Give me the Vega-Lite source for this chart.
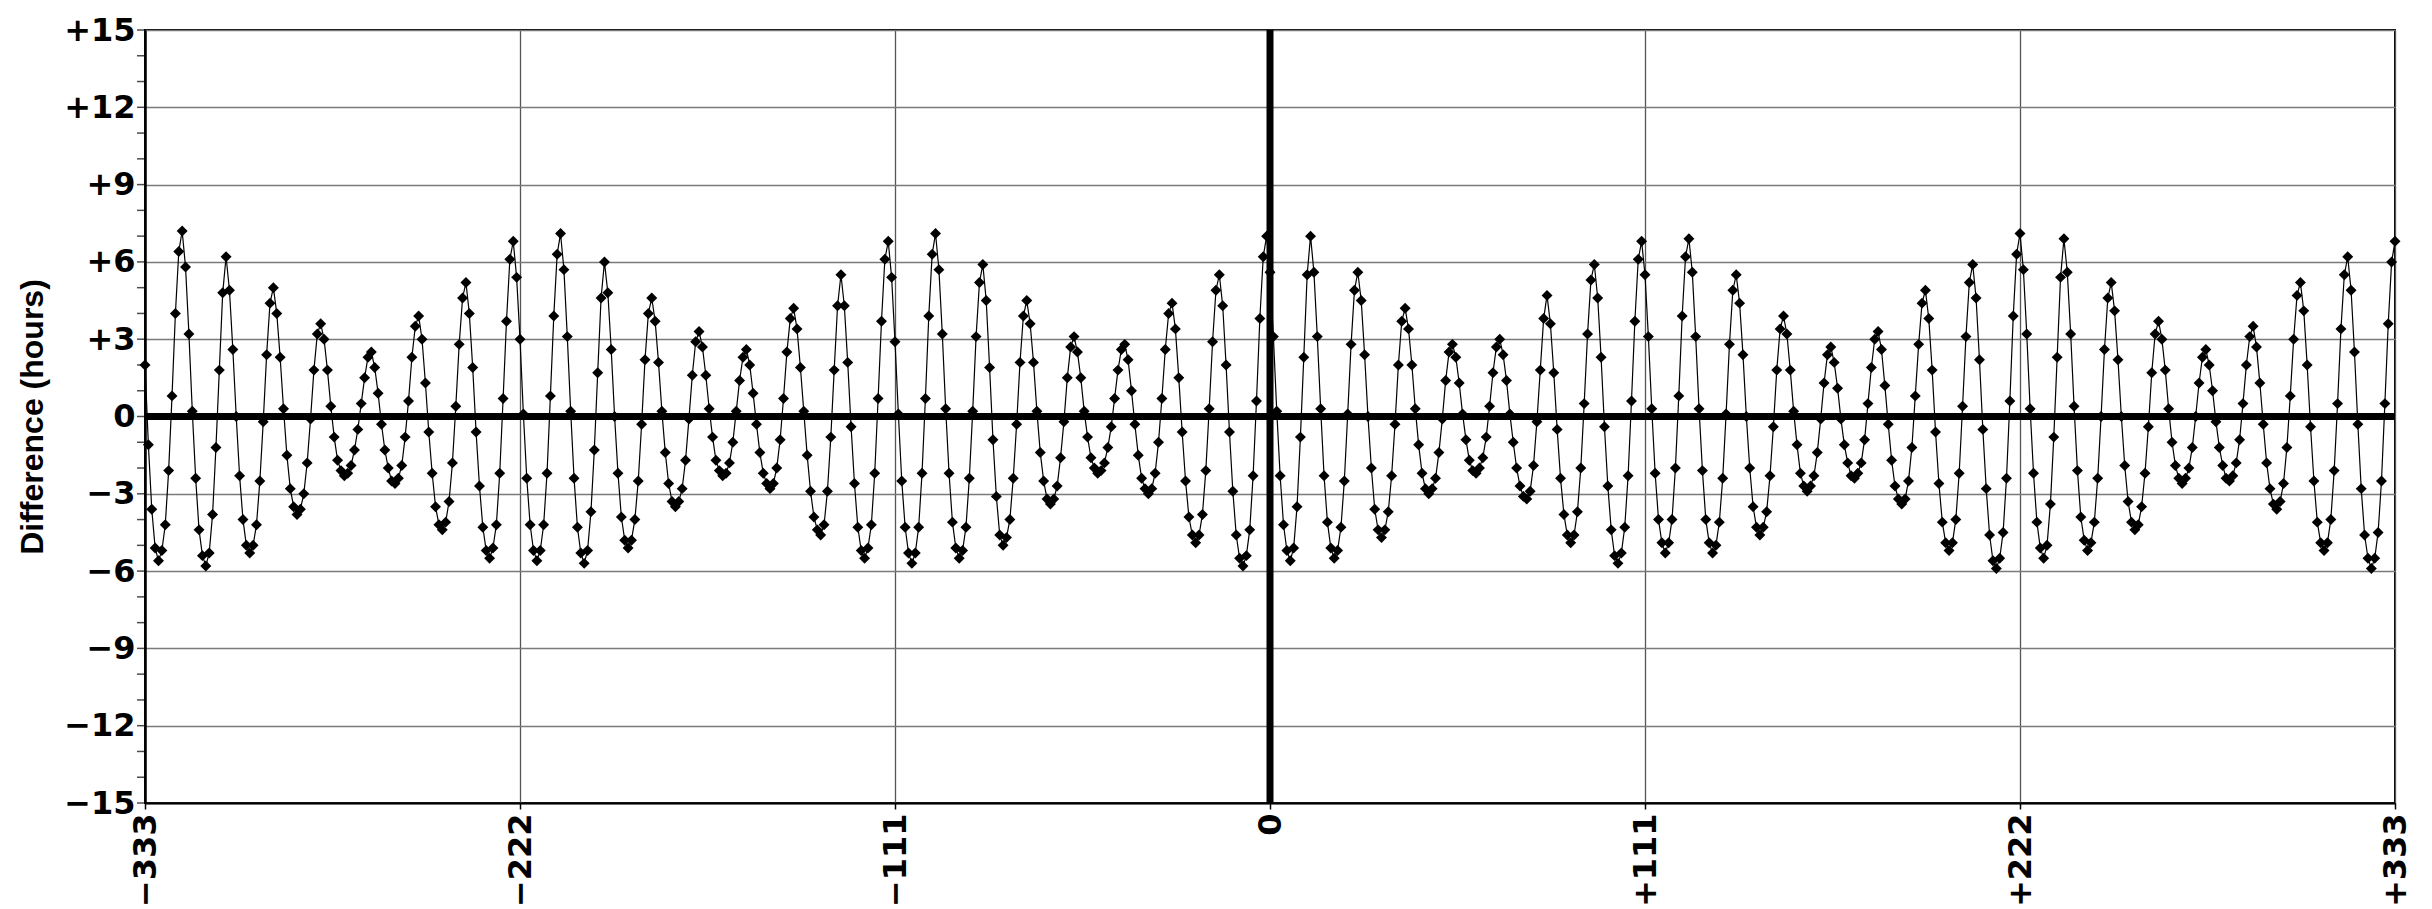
{
  "$schema": "https://vega.github.io/schema/vega-lite/v6.json",
  "width": 2250,
  "height": 773,
  "autosize": "none",
  "padding": {"left": 145, "top": 30, "right": 37, "bottom": 106},
  "background": "white",
  "config": {"view": {"stroke": "black", "strokeWidth": 2}},
  "datasets": {
    "lunations": [
{"n":-333,"d":2.0},{"n":-332,"d":-1.1},{"n":-331,"d":-3.6},{"n":-330,"d":-5.1},{"n":-329,"d":-5.6},{"n":-328,"d":-5.2},{"n":-327,"d":-4.2},{"n":-326,"d":-2.1},{"n":-325,"d":0.8},{"n":-324,"d":4.0},{"n":-323,"d":6.4},{"n":-322,"d":7.2},{"n":-321,"d":5.8},{"n":-320,"d":3.2},{"n":-319,"d":0.2},{"n":-318,"d":-2.4},{"n":-317,"d":-4.4},{"n":-316,"d":-5.4},{"n":-315,"d":-5.8},{"n":-314,"d":-5.3},{"n":-313,"d":-3.8},{"n":-312,"d":-1.2},{"n":-311,"d":1.8},{"n":-310,"d":4.8},{"n":-309,"d":6.2},{"n":-308,"d":4.9},{"n":-307,"d":2.6},{"n":-306,"d":0.0},{"n":-305,"d":-2.3},{"n":-304,"d":-4.0},{"n":-303,"d":-5.0},{"n":-302,"d":-5.3},{"n":-301,"d":-5.0},{"n":-300,"d":-4.2},{"n":-299,"d":-2.5},{"n":-298,"d":-0.2},{"n":-297,"d":2.4},{"n":-296,"d":4.4},{"n":-295,"d":5.0},{"n":-294,"d":4.0},{"n":-293,"d":2.3},{"n":-292,"d":0.3},{"n":-291,"d":-1.5},{"n":-290,"d":-2.8},{"n":-289,"d":-3.5},{"n":-288,"d":-3.8},{"n":-287,"d":-3.6},{"n":-286,"d":-3.0},{"n":-285,"d":-1.8},{"n":-284,"d":-0.1},{"n":-283,"d":1.8},{"n":-282,"d":3.2},{"n":-281,"d":3.6},{"n":-280,"d":3.0},{"n":-279,"d":1.8},{"n":-278,"d":0.4},{"n":-277,"d":-0.8},{"n":-276,"d":-1.7},{"n":-275,"d":-2.1},{"n":-274,"d":-2.3},{"n":-273,"d":-2.2},{"n":-272,"d":-1.9},{"n":-271,"d":-1.3},{"n":-270,"d":-0.5},{"n":-269,"d":0.5},{"n":-268,"d":1.5},{"n":-267,"d":2.3},{"n":-266,"d":2.5},{"n":-265,"d":1.9},{"n":-264,"d":0.9},{"n":-263,"d":-0.3},{"n":-262,"d":-1.3},{"n":-261,"d":-2.0},{"n":-260,"d":-2.5},{"n":-259,"d":-2.6},{"n":-258,"d":-2.4},{"n":-257,"d":-1.9},{"n":-256,"d":-0.8},{"n":-255,"d":0.6},{"n":-254,"d":2.3},{"n":-253,"d":3.5},{"n":-252,"d":3.9},{"n":-251,"d":3.0},{"n":-250,"d":1.3},{"n":-249,"d":-0.6},{"n":-248,"d":-2.2},{"n":-247,"d":-3.5},{"n":-246,"d":-4.2},{"n":-245,"d":-4.4},{"n":-244,"d":-4.1},{"n":-243,"d":-3.3},{"n":-242,"d":-1.8},{"n":-241,"d":0.4},{"n":-240,"d":2.8},{"n":-239,"d":4.6},{"n":-238,"d":5.2},{"n":-237,"d":4.0},{"n":-236,"d":1.9},{"n":-235,"d":-0.6},{"n":-234,"d":-2.7},{"n":-233,"d":-4.3},{"n":-232,"d":-5.2},{"n":-231,"d":-5.5},{"n":-230,"d":-5.1},{"n":-229,"d":-4.2},{"n":-228,"d":-2.2},{"n":-227,"d":0.7},{"n":-226,"d":3.7},{"n":-225,"d":6.1},{"n":-224,"d":6.8},{"n":-223,"d":5.4},{"n":-222,"d":3.0},{"n":-221,"d":0.1},{"n":-220,"d":-2.4},{"n":-219,"d":-4.2},{"n":-218,"d":-5.2},{"n":-217,"d":-5.6},{"n":-216,"d":-5.2},{"n":-215,"d":-4.2},{"n":-214,"d":-2.2},{"n":-213,"d":0.8},{"n":-212,"d":3.9},{"n":-211,"d":6.3},{"n":-210,"d":7.1},{"n":-209,"d":5.7},{"n":-208,"d":3.1},{"n":-207,"d":0.2},{"n":-206,"d":-2.4},{"n":-205,"d":-4.3},{"n":-204,"d":-5.3},{"n":-203,"d":-5.7},{"n":-202,"d":-5.2},{"n":-201,"d":-3.7},{"n":-200,"d":-1.3},{"n":-199,"d":1.7},{"n":-198,"d":4.6},{"n":-197,"d":6.0},{"n":-196,"d":4.8},{"n":-195,"d":2.6},{"n":-194,"d":0.0},{"n":-193,"d":-2.2},{"n":-192,"d":-3.9},{"n":-191,"d":-4.8},{"n":-190,"d":-5.1},{"n":-189,"d":-4.8},{"n":-188,"d":-4.0},{"n":-187,"d":-2.5},{"n":-186,"d":-0.3},{"n":-185,"d":2.2},{"n":-184,"d":4.0},{"n":-183,"d":4.6},{"n":-182,"d":3.7},{"n":-181,"d":2.1},{"n":-180,"d":0.2},{"n":-179,"d":-1.4},{"n":-178,"d":-2.6},{"n":-177,"d":-3.3},{"n":-176,"d":-3.5},{"n":-175,"d":-3.3},{"n":-174,"d":-2.8},{"n":-173,"d":-1.7},{"n":-172,"d":-0.1},{"n":-171,"d":1.6},{"n":-170,"d":2.9},{"n":-169,"d":3.3},{"n":-168,"d":2.7},{"n":-167,"d":1.6},{"n":-166,"d":0.3},{"n":-165,"d":-0.8},{"n":-164,"d":-1.7},{"n":-163,"d":-2.1},{"n":-162,"d":-2.3},{"n":-161,"d":-2.2},{"n":-160,"d":-1.8},{"n":-159,"d":-1.0},{"n":-158,"d":0.2},{"n":-157,"d":1.4},{"n":-156,"d":2.3},{"n":-155,"d":2.6},{"n":-154,"d":2.0},{"n":-153,"d":0.9},{"n":-152,"d":-0.3},{"n":-151,"d":-1.4},{"n":-150,"d":-2.2},{"n":-149,"d":-2.6},{"n":-148,"d":-2.8},{"n":-147,"d":-2.6},{"n":-146,"d":-2.0},{"n":-145,"d":-0.9},{"n":-144,"d":0.7},{"n":-143,"d":2.5},{"n":-142,"d":3.8},{"n":-141,"d":4.2},{"n":-140,"d":3.4},{"n":-139,"d":1.9},{"n":-138,"d":0.2},{"n":-137,"d":-1.5},{"n":-136,"d":-2.9},{"n":-135,"d":-3.9},{"n":-134,"d":-4.4},{"n":-133,"d":-4.6},{"n":-132,"d":-4.2},{"n":-131,"d":-2.9},{"n":-130,"d":-0.8},{"n":-129,"d":1.8},{"n":-128,"d":4.3},{"n":-127,"d":5.5},{"n":-126,"d":4.3},{"n":-125,"d":2.1},{"n":-124,"d":-0.4},{"n":-123,"d":-2.6},{"n":-122,"d":-4.3},{"n":-121,"d":-5.2},{"n":-120,"d":-5.5},{"n":-119,"d":-5.1},{"n":-118,"d":-4.2},{"n":-117,"d":-2.2},{"n":-116,"d":0.7},{"n":-115,"d":3.7},{"n":-114,"d":6.1},{"n":-113,"d":6.8},{"n":-112,"d":5.4},{"n":-111,"d":2.9},{"n":-110,"d":0.1},{"n":-109,"d":-2.5},{"n":-108,"d":-4.3},{"n":-107,"d":-5.3},{"n":-106,"d":-5.7},{"n":-105,"d":-5.3},{"n":-104,"d":-4.3},{"n":-103,"d":-2.2},{"n":-102,"d":0.7},{"n":-101,"d":3.9},{"n":-100,"d":6.3},{"n":-99,"d":7.1},{"n":-98,"d":5.7},{"n":-97,"d":3.2},{"n":-96,"d":0.3},{"n":-95,"d":-2.2},{"n":-94,"d":-4.1},{"n":-93,"d":-5.1},{"n":-92,"d":-5.5},{"n":-91,"d":-5.2},{"n":-90,"d":-4.3},{"n":-89,"d":-2.4},{"n":-88,"d":0.2},{"n":-87,"d":3.1},{"n":-86,"d":5.2},{"n":-85,"d":5.9},{"n":-84,"d":4.5},{"n":-83,"d":1.9},{"n":-82,"d":-0.9},{"n":-81,"d":-3.1},{"n":-80,"d":-4.6},{"n":-79,"d":-5.0},{"n":-78,"d":-4.7},{"n":-77,"d":-4.0},{"n":-76,"d":-2.4},{"n":-75,"d":-0.3},{"n":-74,"d":2.1},{"n":-73,"d":3.9},{"n":-72,"d":4.5},{"n":-71,"d":3.6},{"n":-70,"d":2.1},{"n":-69,"d":0.2},{"n":-68,"d":-1.4},{"n":-67,"d":-2.5},{"n":-66,"d":-3.2},{"n":-65,"d":-3.4},{"n":-64,"d":-3.2},{"n":-63,"d":-2.7},{"n":-62,"d":-1.6},{"n":-61,"d":-0.2},{"n":-60,"d":1.5},{"n":-59,"d":2.7},{"n":-58,"d":3.1},{"n":-57,"d":2.5},{"n":-56,"d":1.5},{"n":-55,"d":0.2},{"n":-54,"d":-0.8},{"n":-53,"d":-1.6},{"n":-52,"d":-2.0},{"n":-51,"d":-2.2},{"n":-50,"d":-2.1},{"n":-49,"d":-1.8},{"n":-48,"d":-1.2},{"n":-47,"d":-0.4},{"n":-46,"d":0.7},{"n":-45,"d":1.8},{"n":-44,"d":2.6},{"n":-43,"d":2.8},{"n":-42,"d":2.2},{"n":-41,"d":1.0},{"n":-40,"d":-0.3},{"n":-39,"d":-1.5},{"n":-38,"d":-2.4},{"n":-37,"d":-2.8},{"n":-36,"d":-3.0},{"n":-35,"d":-2.8},{"n":-34,"d":-2.2},{"n":-33,"d":-1.0},{"n":-32,"d":0.7},{"n":-31,"d":2.6},{"n":-30,"d":4.0},{"n":-29,"d":4.4},{"n":-28,"d":3.4},{"n":-27,"d":1.5},{"n":-26,"d":-0.6},{"n":-25,"d":-2.5},{"n":-24,"d":-3.9},{"n":-23,"d":-4.6},{"n":-22,"d":-4.9},{"n":-21,"d":-4.6},{"n":-20,"d":-3.8},{"n":-19,"d":-2.1},{"n":-18,"d":0.3},{"n":-17,"d":2.9},{"n":-16,"d":4.9},{"n":-15,"d":5.5},{"n":-14,"d":4.3},{"n":-13,"d":2.0},{"n":-12,"d":-0.6},{"n":-11,"d":-2.9},{"n":-10,"d":-4.6},{"n":-9,"d":-5.5},{"n":-8,"d":-5.8},{"n":-7,"d":-5.4},{"n":-6,"d":-4.4},{"n":-5,"d":-2.3},{"n":-4,"d":0.6},{"n":-3,"d":3.8},{"n":-2,"d":6.2},{"n":-1,"d":7.0},{"n":0,"d":5.6},{"n":1,"d":3.1},{"n":2,"d":0.2},{"n":3,"d":-2.3},{"n":4,"d":-4.2},{"n":5,"d":-5.2},{"n":6,"d":-5.6},{"n":7,"d":-5.1},{"n":8,"d":-3.5},{"n":9,"d":-0.8},{"n":10,"d":2.3},{"n":11,"d":5.5},{"n":12,"d":7.0},{"n":13,"d":5.6},{"n":14,"d":3.1},{"n":15,"d":0.3},{"n":16,"d":-2.3},{"n":17,"d":-4.1},{"n":18,"d":-5.1},{"n":19,"d":-5.5},{"n":20,"d":-5.2},{"n":21,"d":-4.3},{"n":22,"d":-2.5},{"n":23,"d":0.1},{"n":24,"d":2.8},{"n":25,"d":4.9},{"n":26,"d":5.6},{"n":27,"d":4.5},{"n":28,"d":2.4},{"n":29,"d":0.0},{"n":30,"d":-2.0},{"n":31,"d":-3.6},{"n":32,"d":-4.4},{"n":33,"d":-4.7},{"n":34,"d":-4.4},{"n":35,"d":-3.7},{"n":36,"d":-2.3},{"n":37,"d":-0.3},{"n":38,"d":2.0},{"n":39,"d":3.7},{"n":40,"d":4.2},{"n":41,"d":3.4},{"n":42,"d":2.0},{"n":43,"d":0.3},{"n":44,"d":-1.1},{"n":45,"d":-2.2},{"n":46,"d":-2.8},{"n":47,"d":-3.0},{"n":48,"d":-2.8},{"n":49,"d":-2.4},{"n":50,"d":-1.4},{"n":51,"d":-0.1},{"n":52,"d":1.4},{"n":53,"d":2.5},{"n":54,"d":2.8},{"n":55,"d":2.3},{"n":56,"d":1.3},{"n":57,"d":0.1},{"n":58,"d":-0.9},{"n":59,"d":-1.7},{"n":60,"d":-2.1},{"n":61,"d":-2.2},{"n":62,"d":-2.0},{"n":63,"d":-1.6},{"n":64,"d":-0.8},{"n":65,"d":0.4},{"n":66,"d":1.7},{"n":67,"d":2.7},{"n":68,"d":3.0},{"n":69,"d":2.4},{"n":70,"d":1.4},{"n":71,"d":0.1},{"n":72,"d":-1.0},{"n":73,"d":-2.0},{"n":74,"d":-2.7},{"n":75,"d":-3.1},{"n":76,"d":-3.2},{"n":77,"d":-2.9},{"n":78,"d":-1.9},{"n":79,"d":-0.2},{"n":80,"d":1.8},{"n":81,"d":3.8},{"n":82,"d":4.7},{"n":83,"d":3.6},{"n":84,"d":1.7},{"n":85,"d":-0.5},{"n":86,"d":-2.4},{"n":87,"d":-3.8},{"n":88,"d":-4.6},{"n":89,"d":-4.9},{"n":90,"d":-4.6},{"n":91,"d":-3.7},{"n":92,"d":-2.0},{"n":93,"d":0.5},{"n":94,"d":3.2},{"n":95,"d":5.3},{"n":96,"d":5.9},{"n":97,"d":4.6},{"n":98,"d":2.3},{"n":99,"d":-0.4},{"n":100,"d":-2.7},{"n":101,"d":-4.4},{"n":102,"d":-5.4},{"n":103,"d":-5.7},{"n":104,"d":-5.3},{"n":105,"d":-4.3},{"n":106,"d":-2.3},{"n":107,"d":0.6},{"n":108,"d":3.7},{"n":109,"d":6.1},{"n":110,"d":6.8},{"n":111,"d":5.5},{"n":112,"d":3.1},{"n":113,"d":0.3},{"n":114,"d":-2.2},{"n":115,"d":-4.0},{"n":116,"d":-4.9},{"n":117,"d":-5.3},{"n":118,"d":-4.9},{"n":119,"d":-4.0},{"n":120,"d":-2.0},{"n":121,"d":0.8},{"n":122,"d":3.9},{"n":123,"d":6.2},{"n":124,"d":6.9},{"n":125,"d":5.6},{"n":126,"d":3.1},{"n":127,"d":0.3},{"n":128,"d":-2.1},{"n":129,"d":-4.0},{"n":130,"d":-4.9},{"n":131,"d":-5.3},{"n":132,"d":-5.0},{"n":133,"d":-4.1},{"n":134,"d":-2.4},{"n":135,"d":0.1},{"n":136,"d":2.8},{"n":137,"d":4.9},{"n":138,"d":5.5},{"n":139,"d":4.4},{"n":140,"d":2.4},{"n":141,"d":0.0},{"n":142,"d":-2.0},{"n":143,"d":-3.5},{"n":144,"d":-4.3},{"n":145,"d":-4.6},{"n":146,"d":-4.3},{"n":147,"d":-3.7},{"n":148,"d":-2.3},{"n":149,"d":-0.4},{"n":150,"d":1.8},{"n":151,"d":3.4},{"n":152,"d":3.9},{"n":153,"d":3.2},{"n":154,"d":1.8},{"n":155,"d":0.2},{"n":156,"d":-1.1},{"n":157,"d":-2.2},{"n":158,"d":-2.7},{"n":159,"d":-2.9},{"n":160,"d":-2.7},{"n":161,"d":-2.3},{"n":162,"d":-1.4},{"n":163,"d":-0.1},{"n":164,"d":1.3},{"n":165,"d":2.4},{"n":166,"d":2.7},{"n":167,"d":2.1},{"n":168,"d":1.1},{"n":169,"d":-0.1},{"n":170,"d":-1.1},{"n":171,"d":-1.8},{"n":172,"d":-2.3},{"n":173,"d":-2.4},{"n":174,"d":-2.2},{"n":175,"d":-1.8},{"n":176,"d":-0.9},{"n":177,"d":0.5},{"n":178,"d":1.9},{"n":179,"d":3.0},{"n":180,"d":3.3},{"n":181,"d":2.6},{"n":182,"d":1.2},{"n":183,"d":-0.3},{"n":184,"d":-1.7},{"n":185,"d":-2.7},{"n":186,"d":-3.2},{"n":187,"d":-3.4},{"n":188,"d":-3.2},{"n":189,"d":-2.5},{"n":190,"d":-1.2},{"n":191,"d":0.8},{"n":192,"d":2.8},{"n":193,"d":4.4},{"n":194,"d":4.9},{"n":195,"d":3.8},{"n":196,"d":1.8},{"n":197,"d":-0.6},{"n":198,"d":-2.6},{"n":199,"d":-4.1},{"n":200,"d":-4.9},{"n":201,"d":-5.2},{"n":202,"d":-4.9},{"n":203,"d":-4.0},{"n":204,"d":-2.2},{"n":205,"d":0.4},{"n":206,"d":3.1},{"n":207,"d":5.2},{"n":208,"d":5.9},{"n":209,"d":4.6},{"n":210,"d":2.2},{"n":211,"d":-0.5},{"n":212,"d":-2.8},{"n":213,"d":-4.6},{"n":214,"d":-5.6},{"n":215,"d":-5.9},{"n":216,"d":-5.5},{"n":217,"d":-4.5},{"n":218,"d":-2.4},{"n":219,"d":0.6},{"n":220,"d":3.9},{"n":221,"d":6.3},{"n":222,"d":7.1},{"n":223,"d":5.7},{"n":224,"d":3.2},{"n":225,"d":0.3},{"n":226,"d":-2.2},{"n":227,"d":-4.1},{"n":228,"d":-5.1},{"n":229,"d":-5.5},{"n":230,"d":-5.0},{"n":231,"d":-3.4},{"n":232,"d":-0.8},{"n":233,"d":2.3},{"n":234,"d":5.4},{"n":235,"d":6.9},{"n":236,"d":5.6},{"n":237,"d":3.2},{"n":238,"d":0.4},{"n":239,"d":-2.1},{"n":240,"d":-3.9},{"n":241,"d":-4.8},{"n":242,"d":-5.2},{"n":243,"d":-4.9},{"n":244,"d":-4.1},{"n":245,"d":-2.4},{"n":246,"d":0.0},{"n":247,"d":2.6},{"n":248,"d":4.6},{"n":249,"d":5.2},{"n":250,"d":4.1},{"n":251,"d":2.2},{"n":252,"d":0.0},{"n":253,"d":-1.9},{"n":254,"d":-3.3},{"n":255,"d":-4.1},{"n":256,"d":-4.4},{"n":257,"d":-4.2},{"n":258,"d":-3.5},{"n":259,"d":-2.2},{"n":260,"d":-0.4},{"n":261,"d":1.7},{"n":262,"d":3.2},{"n":263,"d":3.7},{"n":264,"d":3.0},{"n":265,"d":1.8},{"n":266,"d":0.3},{"n":267,"d":-1.0},{"n":268,"d":-1.9},{"n":269,"d":-2.4},{"n":270,"d":-2.6},{"n":271,"d":-2.4},{"n":272,"d":-2.0},{"n":273,"d":-1.2},{"n":274,"d":0.0},{"n":275,"d":1.3},{"n":276,"d":2.3},{"n":277,"d":2.6},{"n":278,"d":2.0},{"n":279,"d":1.0},{"n":280,"d":-0.2},{"n":281,"d":-1.2},{"n":282,"d":-1.9},{"n":283,"d":-2.4},{"n":284,"d":-2.5},{"n":285,"d":-2.3},{"n":286,"d":-1.8},{"n":287,"d":-0.9},{"n":288,"d":0.5},{"n":289,"d":2.0},{"n":290,"d":3.1},{"n":291,"d":3.5},{"n":292,"d":2.7},{"n":293,"d":1.3},{"n":294,"d":-0.3},{"n":295,"d":-1.8},{"n":296,"d":-2.8},{"n":297,"d":-3.4},{"n":298,"d":-3.6},{"n":299,"d":-3.3},{"n":300,"d":-2.6},{"n":301,"d":-1.2},{"n":302,"d":0.8},{"n":303,"d":3.0},{"n":304,"d":4.7},{"n":305,"d":5.2},{"n":306,"d":4.1},{"n":307,"d":2.0},{"n":308,"d":-0.4},{"n":309,"d":-2.5},{"n":310,"d":-4.1},{"n":311,"d":-4.9},{"n":312,"d":-5.2},{"n":313,"d":-4.9},{"n":314,"d":-4.0},{"n":315,"d":-2.1},{"n":316,"d":0.5},{"n":317,"d":3.4},{"n":318,"d":5.5},{"n":319,"d":6.2},{"n":320,"d":4.9},{"n":321,"d":2.5},{"n":322,"d":-0.3},{"n":323,"d":-2.8},{"n":324,"d":-4.6},{"n":325,"d":-5.5},{"n":326,"d":-5.9},{"n":327,"d":-5.5},{"n":328,"d":-4.5},{"n":329,"d":-2.5},{"n":330,"d":0.5},{"n":331,"d":3.6},{"n":332,"d":6.0},{"n":333,"d":6.8}
    ],
    "minorTicks": [
{"m":-15},{"m":-14},{"m":-13},{"m":-12},{"m":-11},{"m":-10},{"m":-9},{"m":-8},{"m":-7},{"m":-6},{"m":-5},{"m":-4},{"m":-3},{"m":-2},{"m":-1},{"m":0},{"m":1},{"m":2},{"m":3},{"m":4},{"m":5},{"m":6},{"m":7},{"m":8},{"m":9},{"m":10},{"m":11},{"m":12},{"m":13},{"m":14},{"m":15}
    ]
  },
  "layer": [
    {
      "data": {"name": "lunations"},
      "mark": {"type": "line", "color": "black", "strokeWidth": 1.2},
      "encoding": {
        "x": {
          "field": "n", "type": "quantitative",
          "scale": {"domain": [-333, 333], "nice": false, "zero": false},
          "axis": {
            "title": null,
            "values": [-333, -222, -111, 0, 111, 222, 333],
            "labelExpr": "datum.value > 0 ? '+' + datum.value : (datum.value < 0 ? '−' + abs(datum.value) : '0')",
            "labelAngle": -90,
            "labelFont": "DejaVu Sans",
            "labelFontWeight": "bold",
            "labelFontSize": 32,
            "labelColor": "black",
            "labelPadding": 4,
            "labelFlush": false,
            "labelOverlap": false,
            "labelBound": false,
            "grid": true,
            "gridColor": "#555555",
            "gridWidth": 1.3,
            "domain": true,
            "domainColor": "black",
            "domainWidth": 2,
            "ticks": true,
            "tickColor": "black",
            "tickSize": 6,
            "tickWidth": 1.5
          }
        },
        "y": {
          "field": "d", "type": "quantitative",
          "scale": {"domain": [-15, 15], "nice": false, "zero": false},
          "axis": {
            "title": "Difference (hours)",
            "titleFont": "Liberation Sans",
            "titleFontWeight": "bold",
            "titleFontSize": 32,
            "titleColor": "black",
            "titlePadding": 14,
            "values": [-15, -12, -9, -6, -3, 0, 3, 6, 9, 12, 15],
            "labelExpr": "datum.value > 0 ? '+' + datum.value : (datum.value < 0 ? '−' + abs(datum.value) : '0')",
            "labelFont": "DejaVu Sans",
            "labelFontWeight": "bold",
            "labelFontSize": 32,
            "labelColor": "black",
            "labelPadding": 10,
            "labelFlush": false,
            "labelOverlap": false,
            "labelBound": false,
            "grid": true,
            "gridColor": "#7a7a7a",
            "gridWidth": 1.5,
            "domain": true,
            "domainColor": "black",
            "domainWidth": 2.5,
            "ticks": false
          }
        }
      }
    },
    {
      "data": {"name": "lunations"},
      "mark": {"type": "point", "shape": "diamond", "filled": true, "color": "black", "size": 120, "opacity": 1},
      "encoding": {
        "x": {"field": "n", "type": "quantitative"},
        "y": {"field": "d", "type": "quantitative"}
      }
    },
    {
      "data": {"name": "minorTicks"},
      "mark": {"type": "tick", "orient": "horizontal", "color": "black", "size": 8, "thickness": 1.5, "xOffset": -4},
      "encoding": {
        "x": {"datum": -333, "type": "quantitative"},
        "y": {"field": "m", "type": "quantitative"}
      }
    },
    {
      "data": {"values": [{"v": 0}]},
      "mark": {"type": "rule", "color": "black", "strokeWidth": 7},
      "encoding": {"y": {"field": "v", "type": "quantitative"}}
    },
    {
      "data": {"values": [{"v": 0}]},
      "mark": {"type": "rule", "color": "black", "strokeWidth": 7},
      "encoding": {"x": {"field": "v", "type": "quantitative"}}
    }
  ]
}
